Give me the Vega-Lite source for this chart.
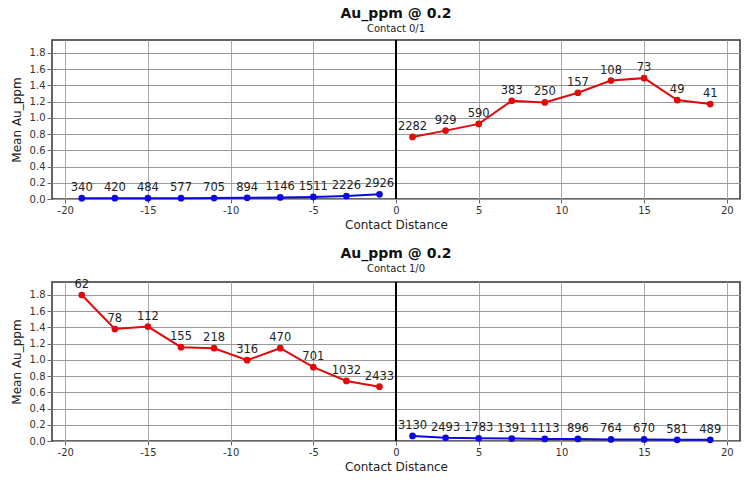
{
  "$schema": "https://vega.github.io/schema/vega-lite/v6.json",
  "description": "Mean Au_ppm against contact distance, two contact directions",
  "background": "white",
  "padding": {"left": 9, "top": 6, "right": 6, "bottom": 2},
  "spacing": 15,
  "datasets": {
    "contact01": [
      {"dist": -19, "mean": 0.010, "n": 340, "domain": "0"},
      {"dist": -17, "mean": 0.010, "n": 420, "domain": "0"},
      {"dist": -15, "mean": 0.010, "n": 484, "domain": "0"},
      {"dist": -13, "mean": 0.010, "n": 577, "domain": "0"},
      {"dist": -11, "mean": 0.012, "n": 705, "domain": "0"},
      {"dist": -9, "mean": 0.015, "n": 894, "domain": "0"},
      {"dist": -7, "mean": 0.020, "n": 1146, "domain": "0"},
      {"dist": -5, "mean": 0.025, "n": 1511, "domain": "0"},
      {"dist": -3, "mean": 0.037, "n": 2226, "domain": "0"},
      {"dist": -1, "mean": 0.058, "n": 2926, "domain": "0"},
      {"dist": 1, "mean": 0.765, "n": 2282, "domain": "1"},
      {"dist": 3, "mean": 0.843, "n": 929, "domain": "1"},
      {"dist": 5, "mean": 0.926, "n": 590, "domain": "1"},
      {"dist": 7, "mean": 1.21, "n": 383, "domain": "1"},
      {"dist": 9, "mean": 1.19, "n": 250, "domain": "1"},
      {"dist": 11, "mean": 1.31, "n": 157, "domain": "1"},
      {"dist": 13, "mean": 1.46, "n": 108, "domain": "1"},
      {"dist": 15, "mean": 1.49, "n": 73, "domain": "1"},
      {"dist": 17, "mean": 1.22, "n": 49, "domain": "1"},
      {"dist": 19, "mean": 1.17, "n": 41, "domain": "1"}
    ],
    "contact10": [
      {"dist": -19, "mean": 1.80, "n": 62, "domain": "1"},
      {"dist": -17, "mean": 1.38, "n": 78, "domain": "1"},
      {"dist": -15, "mean": 1.41, "n": 112, "domain": "1"},
      {"dist": -13, "mean": 1.157, "n": 155, "domain": "1"},
      {"dist": -11, "mean": 1.144, "n": 218, "domain": "1"},
      {"dist": -9, "mean": 0.996, "n": 316, "domain": "1"},
      {"dist": -7, "mean": 1.144, "n": 470, "domain": "1"},
      {"dist": -5, "mean": 0.91, "n": 701, "domain": "1"},
      {"dist": -3, "mean": 0.74, "n": 1032, "domain": "1"},
      {"dist": -1, "mean": 0.67, "n": 2433, "domain": "1"},
      {"dist": 1, "mean": 0.062, "n": 3130, "domain": "0"},
      {"dist": 3, "mean": 0.040, "n": 2493, "domain": "0"},
      {"dist": 5, "mean": 0.033, "n": 1783, "domain": "0"},
      {"dist": 7, "mean": 0.030, "n": 1391, "domain": "0"},
      {"dist": 9, "mean": 0.025, "n": 1113, "domain": "0"},
      {"dist": 11, "mean": 0.025, "n": 896, "domain": "0"},
      {"dist": 13, "mean": 0.020, "n": 764, "domain": "0"},
      {"dist": 15, "mean": 0.020, "n": 670, "domain": "0"},
      {"dist": 17, "mean": 0.015, "n": 581, "domain": "0"},
      {"dist": 19, "mean": 0.015, "n": 489, "domain": "0"}
    ]
  },
  "vconcat": [
    {
      "title": {"text": "Au_ppm @ 0.2", "subtitle": "Contact 0/1"},
      "width": 688,
      "height": 159,
      "data": {"name": "contact01"},
      "encoding": {
        "x": {"field": "dist", "type": "quantitative", "title": "Contact Distance",
              "scale": {"domain": [-20.8, 20.8], "nice": false, "zero": false},
              "axis": {"values": [-20, -15, -10, -5, 0, 5, 10, 15, 20], "labelExpr": "'' + datum.value"}},
        "y": {"field": "mean", "type": "quantitative", "title": "Mean Au_ppm",
              "scale": {"domain": [0, 1.96], "nice": false},
              "axis": {"values": [0, 0.2, 0.4, 0.6, 0.8, 1.0, 1.2, 1.4, 1.6, 1.8], "format": ".1f"}}
      },
      "layer": [
        {"mark": {"type": "rule", "color": "#000000", "strokeWidth": 1.6},
         "encoding": {"x": {"datum": 0}, "y": null}},
        {"mark": {"type": "line", "strokeWidth": 2},
         "encoding": {"color": {"field": "domain", "type": "nominal", "legend": null,
                                "scale": {"domain": ["0", "1"], "range": ["#0a0ae0", "#e00a0a"]}}}},
        {"mark": {"type": "circle", "size": 45, "opacity": 1},
         "encoding": {"color": {"field": "domain", "type": "nominal", "legend": null}}},
        {"mark": {"type": "text", "dy": -10, "fontSize": 11.5, "font": "DejaVu Sans", "color": "#222222"},
         "encoding": {"text": {"field": "n", "type": "quantitative", "format": "d"}}}
      ]
    },
    {
      "title": {"text": "Au_ppm @ 0.2", "subtitle": "Contact 1/0"},
      "width": 688,
      "height": 159,
      "data": {"name": "contact10"},
      "encoding": {
        "x": {"field": "dist", "type": "quantitative", "title": "Contact Distance",
              "scale": {"domain": [-20.8, 20.8], "nice": false, "zero": false},
              "axis": {"values": [-20, -15, -10, -5, 0, 5, 10, 15, 20], "labelExpr": "'' + datum.value"}},
        "y": {"field": "mean", "type": "quantitative", "title": "Mean Au_ppm",
              "scale": {"domain": [0, 1.96], "nice": false},
              "axis": {"values": [0, 0.2, 0.4, 0.6, 0.8, 1.0, 1.2, 1.4, 1.6, 1.8], "format": ".1f"}}
      },
      "layer": [
        {"mark": {"type": "rule", "color": "#000000", "strokeWidth": 1.6},
         "encoding": {"x": {"datum": 0}, "y": null}},
        {"mark": {"type": "line", "strokeWidth": 2},
         "encoding": {"color": {"field": "domain", "type": "nominal", "legend": null,
                                "scale": {"domain": ["0", "1"], "range": ["#0a0ae0", "#e00a0a"]}}}},
        {"mark": {"type": "circle", "size": 45, "opacity": 1},
         "encoding": {"color": {"field": "domain", "type": "nominal", "legend": null}}},
        {"mark": {"type": "text", "dy": -10, "fontSize": 11.5, "font": "DejaVu Sans", "color": "#222222"},
         "encoding": {"text": {"field": "n", "type": "quantitative", "format": "d"}}}
      ]
    }
  ],
  "config": {
    "font": "DejaVu Sans",
    "view": {"stroke": "#333333", "strokeWidth": 1.5},
    "title": {"fontSize": 14, "fontWeight": "bold", "color": "#111111", "anchor": "middle",
              "subtitleFontSize": 10, "subtitleColor": "#222222", "offset": 5, "subtitlePadding": 3},
    "axisX": {"labelFontSize": 10, "labelColor": "#333333", "titleFontSize": 12, "titleFontWeight": "normal",
              "titleColor": "#222222", "titlePadding": 4, "titleAnchor": "middle",
              "gridColor": "#aaaaaa", "gridOpacity": 1, "domain": false, "tickColor": "#666666", "tickSize": 4},
    "axisY": {"labelFontSize": 10, "labelColor": "#333333", "titleFontSize": 12, "titleFontWeight": "normal",
              "titleColor": "#222222", "titlePadding": 6,
              "gridColor": "#999999", "gridOpacity": 1, "domain": false, "tickColor": "#666666", "tickSize": 5}
  }
}
